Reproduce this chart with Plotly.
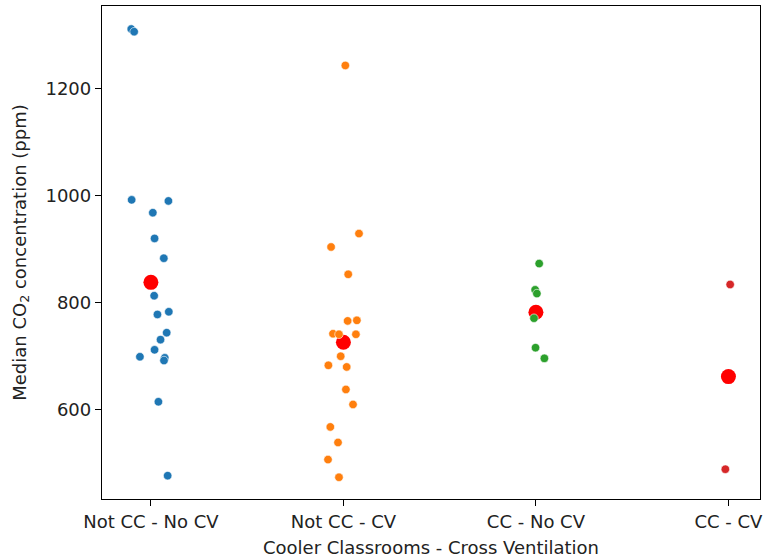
import plotly.graph_objects as go

categories = ["Not CC - No CV", "Not CC - CV", "CC - No CV", "CC - CV"]
colors = ["#1f77b4", "#ff7f0e", "#2ca02c", "#d62728"]

# Median CO2 values (ppm) per category
vals_not_cc_no_cv = [1311, 1306, 992, 990, 968, 920, 883, 813, 783, 778, 744, 731, 712, 699, 697, 692, 615, 477]
vals_not_cc_cv = [1243, 929, 904, 853, 766, 767, 742, 741, 741, 700, 683, 680, 638, 610, 568, 539, 507, 474]
vals_cc_no_cv = [873, 824, 817, 771, 716, 696]
vals_cc_cv = [834, 489]

# horizontal jitter (category units)
jit_not_cc_no_cv = [-0.102, -0.087, -0.100, 0.091, 0.010, 0.019, 0.067, 0.017, 0.093, 0.034, 0.082, 0.050, 0.019, -0.057, 0.072, 0.068, 0.039, 0.087]
jit_not_cc_cv = [0.010, 0.081, -0.064, 0.025, 0.022, 0.070, -0.054, -0.023, 0.065, -0.014, -0.078, 0.017, 0.013, 0.050, -0.068, -0.028, -0.080, -0.023]
jit_cc_no_cv = [0.017, -0.004, 0.005, -0.010, -0.002, 0.044]
jit_cc_cv = [0.009, -0.016]

means = [838, 726, 782, 662]

all_vals = [vals_not_cc_no_cv, vals_not_cc_cv, vals_cc_no_cv, vals_cc_cv]
all_jit = [jit_not_cc_no_cv, jit_not_cc_cv, jit_cc_no_cv, jit_cc_cv]

fig = go.Figure()

fig.add_trace(go.Scatter(
    x=list(range(len(categories))), y=means, mode="markers",
    marker=dict(color="red", size=15, line=dict(width=0)),
    showlegend=False, hoverinfo="skip"))

for i, (vals, jit) in enumerate(zip(all_vals, all_jit)):
    fig.add_trace(go.Scatter(
        x=[i + j for j in jit], y=vals, mode="markers",
        marker=dict(color=colors[i], size=8.5, line=dict(width=0.6, color="white")),
        showlegend=False))

font = dict(family="DejaVu Sans", size=18, color="#222222")

fig.update_layout(
    width=766, height=559,
    margin=dict(l=102, r=3, t=6, b=60),
    plot_bgcolor="white", paper_bgcolor="white",
    font=font,
    xaxis=dict(
        range=[-0.254, 3.164],
        tickmode="array", tickvals=list(range(len(categories))), ticktext=categories,
        showgrid=False, zeroline=False,
        showline=True, linecolor="black", linewidth=1.3, mirror=True,
        ticks="outside", ticklen=6, tickcolor="black", tickwidth=1.3,
        title=dict(text="Cooler Classrooms - Cross Ventilation", font=font, standoff=10),
    ),
    yaxis=dict(
        range=[433.4, 1354],
        tickvals=[600, 800, 1000, 1200],
        showgrid=False, zeroline=False,
        showline=True, linecolor="black", linewidth=1.3, mirror=True,
        ticks="outside", ticklen=6, tickcolor="black", tickwidth=1.3,
        title=dict(text="Median CO<sub>2</sub> concentration (ppm)", font=font, standoff=14),
    ),
)

fig.write_html("out.html", config={"displayModeBar": False},
               post_script="document.body.style.margin='0';document.body.style.overflow='hidden';")
